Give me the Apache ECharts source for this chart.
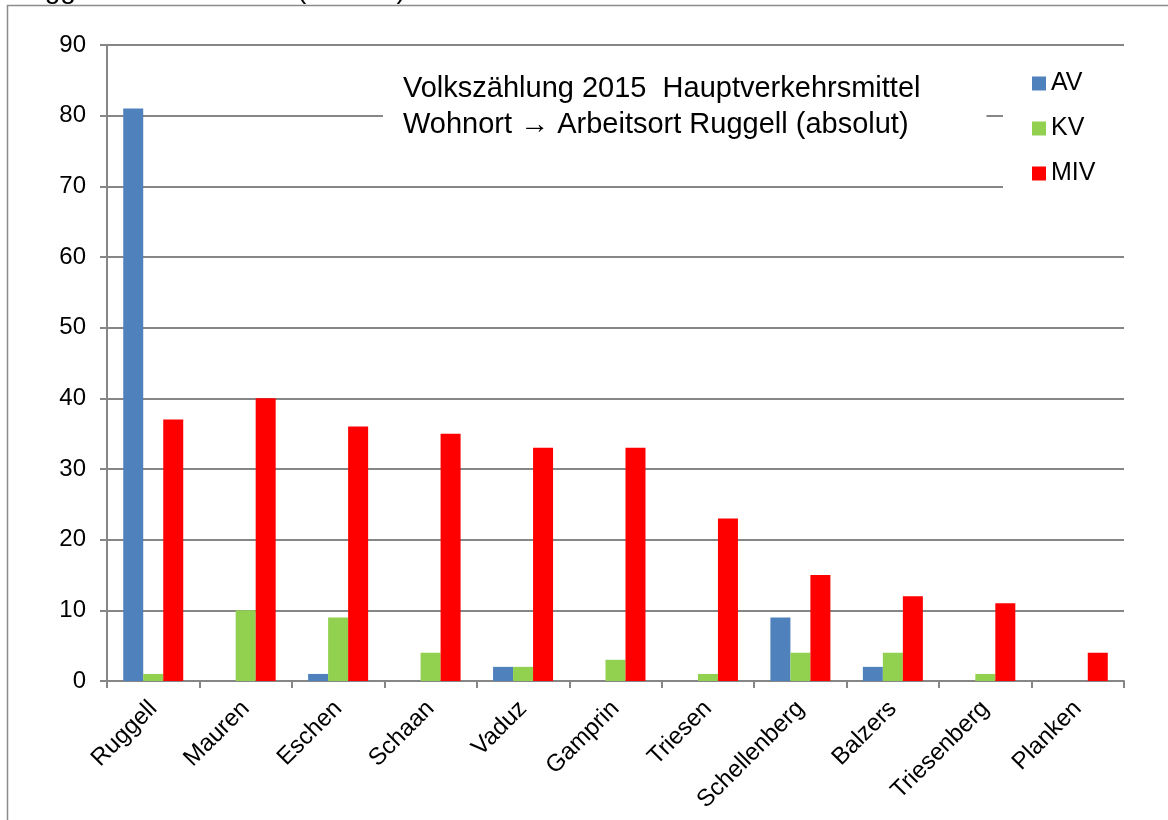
<!DOCTYPE html>
<html>
<head>
<meta charset="utf-8">
<script src="https://cdn.jsdelivr.net/npm/echarts@6/dist/echarts.min.js"></script>
<style>
  html, body { margin: 0; padding: 0; background: #fff; }
  #chart { width: 1168px; height: 820px; }
</style>
</head>
<body>
<div id="chart"></div>
<script>
// Wohngemeinden (categories)
const gemeinden = ['Ruggell', 'Mauren', 'Eschen', 'Schaan', 'Vaduz', 'Gamprin', 'Triesen', 'Schellenberg', 'Balzers', 'Triesenberg', 'Planken']

// Hauptverkehrsmittel
const av = [81, 0, 1, 0, 2, 0, 0, 9, 2, 0, 0]
const kv = [1, 10, 9, 4, 2, 3, 1, 4, 4, 1, 0]
const miv = [37, 40, 36, 35, 33, 33, 23, 15, 12, 11, 4]

const seriesNames = ['AV', 'KV', 'MIV']
const seriesColors = ['#4F81BD', '#92D050', '#FF0000']

const font = 'Arial, "Liberation Sans", sans-serif'
const axisGrey = '#868686'

const chart = echarts.init(document.getElementById('chart'))

const makeBar = (name, data, color) => ({
  name,
  type: 'bar',
  data,
  barWidth: 20,
  barGap: '0%',
  itemStyle: { color },
})

chart.setOption({
  animation: false,
  textStyle: { fontFamily: font },
  graphic: [
    // frame of the chart object
    {
      type: 'rect',
      shape: { x: 7.5, y: 5.5, width: 1200, height: 900 },
      style: { fill: 'none', stroke: '#8c8c8c', lineWidth: 1.5 },
      z: -1,
    },
    // caption above the frame, mostly cut off
    { type: 'text', x: 9, y: 4, style: { text: 'Ruggell', font: '28px Arial', fill: '#000', verticalAlign: 'bottom' } },
    { type: 'text', x: 297, y: 4, style: { text: '(absolut)', font: '28px Arial', fill: '#000', verticalAlign: 'bottom' } },
  ],
  title: {
    text: 'Volkszählung 2015  Hauptverkehrsmittel\nWohnort \u2192 Arbeitsort Ruggell (absolut)',
    left: 383,
    top: 62,
    padding: [9, 66, 20, 20],
    backgroundColor: '#fff',
    textStyle: { fontSize: 29, fontWeight: 'normal', color: '#000', lineHeight: 36, fontFamily: font },
    z: 10,
  },
  legend: {
    data: seriesNames,
    orient: 'vertical',
    left: 1003,
    top: 58,
    padding: [13, 80, 10, 29],
    backgroundColor: '#fff',
    itemWidth: 14,
    itemHeight: 14,
    itemGap: 20,
    icon: 'rect',
    textStyle: { fontSize: 25, color: '#000', fontFamily: font, padding: [0, 0, 0, 0] },
    z: 10,
  },
  grid: { left: 107, right: 44, top: 45, bottom: 139 },
  xAxis: {
    type: 'category',
    data: gemeinden,
    axisLine: { lineStyle: { color: axisGrey, width: 2 } },
    axisTick: { show: true, length: 7, lineStyle: { color: axisGrey, width: 2 } },
    axisLabel: { rotate: 45, fontSize: 24, color: '#000', margin: 24, fontFamily: font },
  },
  yAxis: {
    type: 'value',
    min: 0,
    max: 90,
    interval: 10,
    axisLine: { show: true, lineStyle: { color: axisGrey, width: 2 } },
    axisTick: { show: true, length: 7, lineStyle: { color: axisGrey, width: 2 } },
    splitLine: { lineStyle: { color: axisGrey, width: 2 } },
    axisLabel: { fontSize: 24, color: '#000', margin: 21, fontFamily: font },
  },
  series: [
    makeBar(seriesNames[0], av, seriesColors[0]),
    makeBar(seriesNames[1], kv, seriesColors[1]),
    makeBar(seriesNames[2], miv, seriesColors[2]),
  ],
})
</script>
</body>
</html>
